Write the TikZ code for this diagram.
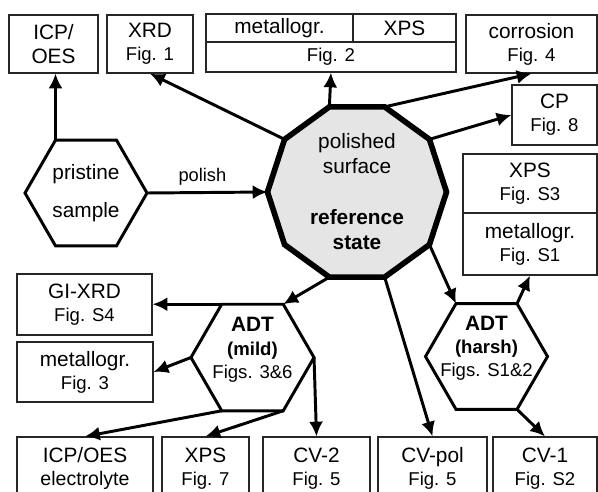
\documentclass[tikz,border=0pt]{standalone}
\usepackage{fontspec}
\setmainfont{Liberation Sans}
\usepackage{tikz}
\usetikzlibrary{positioning, shapes.geometric, arrows.meta}
\newcommand{\bigsz}{\fontsize{14.8}{16.5}\selectfont}
\newcommand{\figsz}{\fontsize{13.2}{16.5}\selectfont}
\newcommand{\decsz}{\fontsize{14.8}{17.8}\selectfont}

\begin{document}
\begin{tikzpicture}[x=0.025cm, y=-0.025cm,
	rbox/.style={draw=black!85, line width=0.8pt, rectangle, inner sep=0pt, font=\bigsz, align=center},
	hexa/.style={draw, line width=2.1pt, regular polygon, regular polygon sides=6, inner sep=0pt, outer sep=0pt, minimum size=3.05cm, align=center, font=\bigsz},
	deca/.style={draw, line width=4pt, fill=gray!20, regular polygon, regular polygon sides=10, inner sep=0pt, outer sep=0pt, minimum size=4.475cm, align=center, font=\decsz},
	hexlbl/.style={align=center, font=\bigsz, inner sep=0pt},
	arr/.style={line width=2.1pt, -{Latex[length=10.5pt,width=10pt]}}]
	\useasboundingbox (0,0) rectangle (598,492);
	\clip (0,0) rectangle (598,492);
	% Top row
	\node[rbox, minimum width=2.225cm, minimum height=1.45cm] (icp) at (53.5,44) {ICP/\\OES};
	\node[rbox, minimum width=2.15cm, minimum height=1.45cm] (xrd) at (150,44) {XRD\\{\figsz Fig. 1}};
	\node[rbox, minimum width=3.675cm, minimum height=0.7cm] (met2) at (279.5,28) {metallogr.};
	\node[rbox, minimum width=2.575cm, minimum height=0.7cm] (xps2) at (404.5,28) {XPS};
	\node[rbox, minimum width=6.25cm, minimum height=0.75cm, font=\figsz] (fig2) at (331,57) {Fig. 2};
	\node[rbox, minimum width=3.275cm, minimum height=1.45cm] (corr) at (531.5,44) {corrosion\\{\figsz Fig. 4}};
	% Right column
	\node[rbox, minimum width=2.125cm, minimum height=1.5cm] (cp) at (554.5,115) {CP\\{\figsz Fig. 8}};
	\node[rbox, minimum width=3.35cm, minimum height=1.475cm] (xpsS) at (530,183.5) {XPS\\{\figsz Fig. S3}};
	\node[rbox, minimum width=3.35cm, minimum height=1.55cm] (metS) at (530,244) {metallogr.\\{\figsz Fig. S1}};
	% Left column
	\node[rbox, minimum width=3.375cm, minimum height=1.525cm] (gixrd) at (84.5,304.5) {GI-XRD\\{\figsz Fig. S4}};
	\node[rbox, minimum width=3.4cm, minimum height=1.5cm] (met3) at (85,372) {metallogr.\\{\figsz Fig. 3}};
	% Bottom row
	\node[rbox, minimum width=3.4cm, minimum height=1.575cm] (icpel) at (85,468.5) {ICP/OES\\{\fontsize{13.9}{16.5}\selectfont electrolyte}};
	\node[rbox, minimum width=2.175cm, minimum height=1.575cm] (xps7) at (205.5,468.5) {XPS\\{\figsz Fig. 7}};
	\node[rbox, minimum width=2.675cm, minimum height=1.575cm] (cv2) at (316.5,468.5) {CV-2\\{\figsz Fig. 5}};
	\node[rbox, minimum width=2.725cm, minimum height=1.575cm] (cvpol) at (432.5,468.5) {CV-pol\\{\figsz Fig. 5}};
	\node[rbox, minimum width=2.6cm, minimum height=1.575cm] (cv1) at (545,468.5) {CV-1\\{\figsz Fig. S2}};
	% Samples and states
	\node[hexa] (pris) at (86,193) {pristine\\[10.5pt]sample};
	\node[deca] (ref) at (357,192) {polished\\surface\\[18.5pt]\textbf{reference}\\\textbf{state}};
	\node[hexa, minimum size=3.075cm] (adtm) at (252.5,357.5) {};
	\node[hexlbl] (adtmlbl) at ([yshift=0.19cm]adtm.center) {\textbf{ADT}\\{\figsz\bfseries (mild)}\\{\figsz Figs. 3\&6}};
	\node[hexa] (adth) at (486.5,356.5) {};
	\node[hexlbl] (adthlbl) at ([yshift=0.2cm]adth.center) {\textbf{ADT}\\{\figsz\bfseries (harsh)}\\{\figsz Figs. S1\&2}};
	% Arrows
	\draw[arr] (pris.120) -- (pris.120 |- icp.south);
	\draw[arr] (pris.0) -- node[above=1pt, pos=0.46, font=\fontsize{13}{15}\selectfont] (pollbl) {polish} (ref.180);
	\draw[arr] (ref.144) -- (xrd.south);
	\draw[arr] (ref.108) -- (fig2.south);
	\draw[arr] (ref.72) -- (corr.south);
	\draw[arr] (ref.36) -- (cp.west);
	\draw[arr] (ref.324) -- (adth.120);
	\draw[arr] (ref.252) -- (adtm.60);
	\draw[arr] (ref.288) -- (cvpol.north);
	\draw[arr] (adtm.120) -- (adtm.120 -| gixrd.east);
	\draw[arr] (adtm.180) -- (met3.east);
	\draw[arr] (adtm.240) -- (icpel.north);
	\draw[arr] (adtm.300) -- (xps7.north);
	\draw[arr] (adtm.0) -- (cv2.north);
	\draw[arr] (adth.60) -- (metS.south);
	\draw[arr] (adth.300) -- (cv1.north);
\end{tikzpicture}
\end{document}
